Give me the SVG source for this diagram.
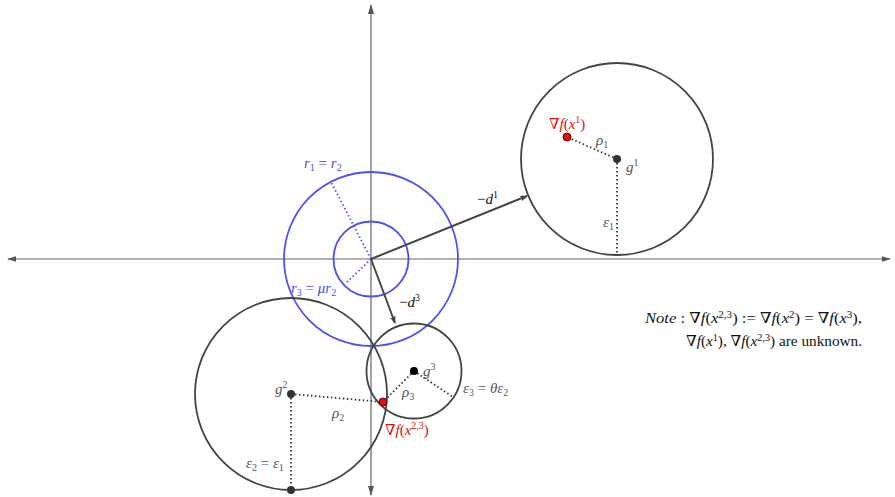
<svg xmlns="http://www.w3.org/2000/svg" width="895" height="497" viewBox="0 0 895 497">
<style>
text{font-family:"Liberation Serif","Times New Roman","DejaVu Serif",serif;font-size:15px;fill:#555}
.i{font-style:italic}
.s{font-size:10px}
.blue{fill:#4a4af0}
.red{fill:#e01010}
.blk{fill:#111}
.note{font-size:15px}
.note .s{font-size:10px}
.circ{fill:none;stroke:#444;stroke-width:1.8}
.bc{fill:none;stroke:#5050f0;stroke-width:1.8}
.dot{stroke:#333;stroke-width:1.8;stroke-dasharray:1.5 2.5;fill:none}
.bdot{stroke:#5050f0;stroke-width:1.8;stroke-dasharray:1.5 2.5;fill:none}
.axis{stroke:#666;stroke-width:1.2}
.vec{stroke:#444;stroke-width:2;fill:none}
</style>
<defs>
<marker id="ah" viewBox="0 0 10 10" refX="9" refY="5" markerWidth="7" markerHeight="7" orient="auto" markerUnits="userSpaceOnUse">
<path d="M0,1 L10,5 L0,9 z" fill="#444"/>
</marker>
<marker id="ax" viewBox="0 0 10 10" refX="9" refY="5" markerWidth="9" markerHeight="9" orient="auto-start-reverse" markerUnits="userSpaceOnUse">
<path d="M0,2 L10,5 L0,8 z" fill="#555"/>
</marker>
<marker id="av" viewBox="0 0 10 10" refX="9" refY="5" markerWidth="10" markerHeight="10" orient="auto-start-reverse" markerUnits="userSpaceOnUse">
<path d="M0,2 L10,5 L0,8 z" fill="#555"/>
</marker>
</defs>
<rect width="895" height="497" fill="#fff"/>
<g id="axes">
<line class="axis" x1="8" y1="259" x2="890" y2="259" marker-start="url(#ax)" marker-end="url(#ax)"/>
<line class="axis" x1="371" y1="5" x2="371" y2="495" marker-start="url(#av)" marker-end="url(#av)"/>
</g>
<g id="blue-circles">
<circle class="bc" cx="371" cy="259" r="87"/>
<circle class="bc" cx="371" cy="259" r="37.5"/>
<line class="bdot" x1="371" y1="259" x2="331" y2="182"/>
<line class="bdot" x1="371" y1="259" x2="345" y2="284"/>
<text x="304" y="168" class="blue"><tspan class="i">r</tspan><tspan class="s" dy="3">1</tspan><tspan dy="-3"> = </tspan><tspan class="i">r</tspan><tspan class="s" dy="3">2</tspan></text>
<text x="291" y="293" class="blue"><tspan class="i">r</tspan><tspan class="s" dy="3">3</tspan><tspan dy="-3"> = </tspan><tspan class="i">μr</tspan><tspan class="s" dy="3">2</tspan></text>
</g>
<g id="circle1">
<circle class="circ" cx="617" cy="159" r="96"/>
<line class="dot" x1="617" y1="159" x2="567" y2="137"/>
<line class="dot" x1="617" y1="159" x2="617" y2="255"/>
<circle cx="617" cy="159" r="4" fill="#333"/>
<circle cx="567" cy="137" r="4" fill="#e01010" stroke="#600" stroke-width="1"/>
<text x="549" y="129" class="red">∇<tspan class="i">f</tspan>(<tspan class="i">x</tspan><tspan class="s" dy="-6">1</tspan><tspan dy="6">)</tspan></text>
<text x="596" y="145"><tspan class="i">ρ</tspan><tspan class="s" dy="3">1</tspan></text>
<text x="626" y="172"><tspan class="i">g</tspan><tspan class="s" dy="-6">1</tspan></text>
<text x="603" y="227"><tspan class="i">ε</tspan><tspan class="s" dy="3">1</tspan></text>
</g>
<g id="circle3">
<circle class="circ" cx="414" cy="371" r="47.5"/>
<line class="dot" x1="414" y1="371" x2="383" y2="402"/>
<line class="dot" x1="414" y1="371" x2="453" y2="397"/>
<circle cx="414" cy="371" r="4" fill="#000"/>
<text x="423" y="376"><tspan class="i">g</tspan><tspan class="s" dy="-6">3</tspan></text>
<text x="402" y="397"><tspan class="i">ρ</tspan><tspan class="s" dy="3">3</tspan></text>
<text x="463" y="393"><tspan class="i">ε</tspan><tspan class="s" dy="3">3</tspan><tspan dy="-3"> = </tspan><tspan class="i">θε</tspan><tspan class="s" dy="3">2</tspan></text>
</g>
<g id="circle2">
<circle class="circ" cx="291" cy="394" r="96"/>
<line class="dot" x1="291" y1="394" x2="383" y2="402"/>
<line class="dot" x1="291" y1="394" x2="291" y2="490"/>
<circle cx="291" cy="394" r="4" fill="#333"/>
<circle cx="291" cy="490" r="4" fill="#333"/>
<text x="275" y="394"><tspan class="i">g</tspan><tspan class="s" dy="-6">2</tspan></text>
<text x="332" y="418"><tspan class="i">ρ</tspan><tspan class="s" dy="3">2</tspan></text>
<text x="246" y="468"><tspan class="i">ε</tspan><tspan class="s" dy="3">2</tspan><tspan dy="-3"> = </tspan><tspan class="i">ε</tspan><tspan class="s" dy="3">1</tspan></text>
</g>
<g id="grad23">
<circle cx="383" cy="402" r="4" fill="#e01010" stroke="#600" stroke-width="1"/>
<text x="385" y="435" class="red">∇<tspan class="i">f</tspan>(<tspan class="i">x</tspan><tspan class="s" dy="-6">2,3</tspan><tspan dy="6">)</tspan></text>
</g>
<g id="connectors">
<line class="vec" x1="371" y1="259" x2="527" y2="196" marker-end="url(#ah)"/>
<line class="vec" x1="371" y1="259" x2="395" y2="323" marker-end="url(#ah)"/>
<text x="477" y="204" class="blk">−<tspan class="i">d</tspan><tspan class="s" dy="-6">1</tspan></text>
<text x="399" y="307" class="blk">−<tspan class="i">d</tspan><tspan class="s" dy="-6">3</tspan></text>
</g>
<g id="note" class="note">
<text x="645" y="323" class="blk note" textLength="217" lengthAdjust="spacingAndGlyphs"><tspan class="i">Note</tspan> : ∇<tspan class="i">f</tspan>(<tspan class="i">x</tspan><tspan class="s" dy="-5">2,3</tspan><tspan dy="5">) := ∇</tspan><tspan class="i">f</tspan>(<tspan class="i">x</tspan><tspan class="s" dy="-5">2</tspan><tspan dy="5">) = ∇</tspan><tspan class="i">f</tspan>(<tspan class="i">x</tspan><tspan class="s" dy="-5">3</tspan><tspan dy="5">),</tspan></text>
<text x="686" y="346" class="blk note" textLength="176" lengthAdjust="spacingAndGlyphs">∇<tspan class="i">f</tspan>(<tspan class="i">x</tspan><tspan class="s" dy="-5">1</tspan><tspan dy="5">), ∇</tspan><tspan class="i">f</tspan>(<tspan class="i">x</tspan><tspan class="s" dy="-5">2,3</tspan><tspan dy="5">) are unknown.</tspan></text>
</g>
</svg>
